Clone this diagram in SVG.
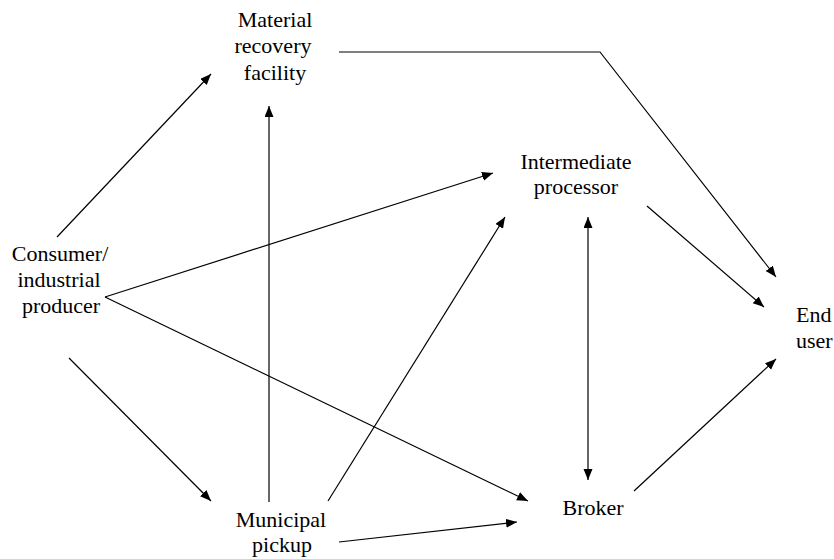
<svg xmlns="http://www.w3.org/2000/svg" width="834" height="559" viewBox="0 0 834 559">
  <style>
    .bg { fill: #ffffff; }
    .label { font-size: 22px; fill: #000; text-anchor: middle; }
    .left { text-anchor: start; }
    .edge { fill: none; stroke: #000; stroke-width: 1.2; marker-end: url(#arrow); }
    .both { marker-start: url(#arrow); }
  </style>
  <defs>
    <marker id="arrow" markerUnits="userSpaceOnUse" markerWidth="12" markerHeight="10" refX="11" refY="4.5" orient="auto-start-reverse">
      <path d="M0,0 L11,4.5 L0,9 z" fill="#000"/>
    </marker>
  </defs>

  <rect class="bg" x="0" y="0" width="834" height="559"/>

  <!-- connectors -->
  <g id="connectors">
    <line class="edge" x1="57" y1="237" x2="211" y2="74"/>
    <line class="edge" x1="269" y1="502" x2="269" y2="106"/>
    <polyline class="edge" points="339,52 600,52 776,277"/>
    <line class="edge" x1="105" y1="297" x2="493" y2="173"/>
    <line class="edge" x1="105" y1="297" x2="528" y2="501"/>
    <line class="edge" x1="69" y1="358" x2="211" y2="501"/>
    <line class="edge" x1="328" y1="501" x2="505" y2="217"/>
    <line class="edge" x1="339" y1="542" x2="517" y2="522"/>
    <line class="edge both" x1="588" y1="217" x2="588" y2="480"/>
    <line class="edge" x1="647" y1="206" x2="764" y2="307"/>
    <line class="edge" x1="634" y1="491" x2="776" y2="359"/>
  </g>

  <!-- nodes -->
  <g font-family="Liberation Serif, Tinos, Times New Roman, DejaVu Serif, serif">
    <g id="material-recovery">
      <text class="label" x="275" y="27">Material</text>
      <text class="label" x="273" y="53">recovery</text>
      <text class="label" x="275" y="80">facility</text>
    </g>
    <g id="consumer">
      <text class="label" x="60" y="261">Consumer/</text>
      <text class="label" x="59" y="287">industrial</text>
      <text class="label" x="61" y="313">producer</text>
    </g>
    <g id="intermediate">
      <text class="label" x="576" y="169">Intermediate</text>
      <text class="label" x="576" y="194">processor</text>
    </g>
    <g id="end-user">
      <text class="label left" x="796" y="322">End</text>
      <text class="label left" x="796" y="348">user</text>
    </g>
    <g id="municipal">
      <text class="label" x="281" y="527">Municipal</text>
      <text class="label" x="282" y="552">pickup</text>
    </g>
    <g id="broker">
      <text class="label" x="593" y="515">Broker</text>
    </g>
  </g>
</svg>
